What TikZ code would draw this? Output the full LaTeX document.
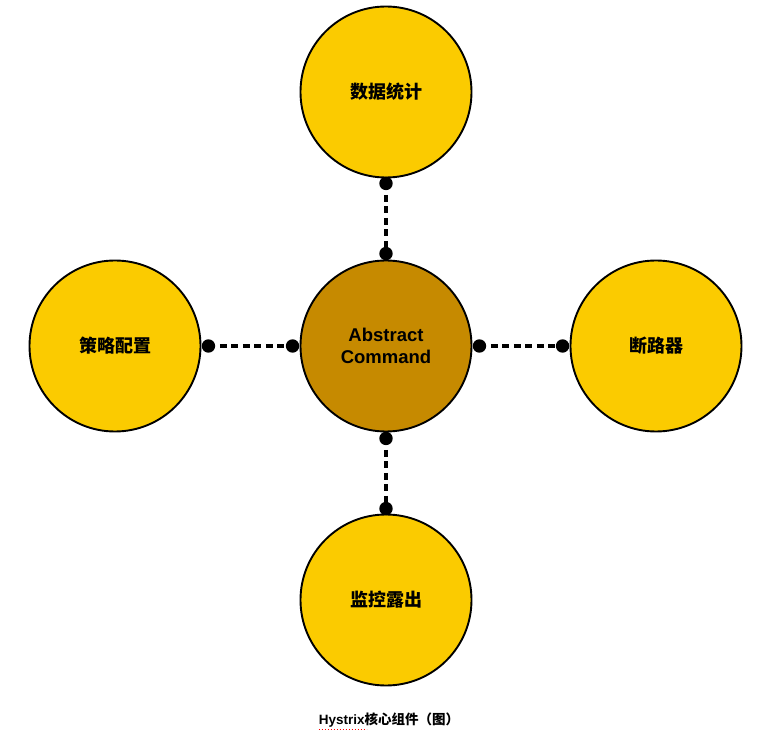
\documentclass[tikz,border=0pt]{standalone}
\usepackage{fontspec}
\setmainfont{Liberation Sans}
\newfontfamily\cjk{Noto Sans CJK SC}
\usetikzlibrary{calc}
\definecolor{sat}{HTML}{FBCB00}
\definecolor{core}{HTML}{C68A00}
\tikzset{
  orb/.style={circle, draw=black, line width=1.9pt, fill=sat, minimum size=171pt, inner sep=0pt, font=\cjk\bfseries\fontsize{18}{22}\selectfont},
  coreorb/.style={orb, fill=core, align=center, font=\bfseries\fontsize{18.5}{22}\selectfont},
  conn/.style={line width=4pt, dash pattern=on 7pt off 4.5pt},
  knob/.style={fill=black},
}
\begin{document}
\begin{tikzpicture}[x=1pt,y=-1pt]
\useasboundingbox[fill=white] (0,0) rectangle (769,735);
\node[orb] (stat) at (386,92) {数据统计};
\node[coreorb] (cmd) at (386,346) {Abstract\\Command};
\node[orb] (policy) at (115,346) {策略配置};
\node[orb] (breaker) at (656,346) {断路器};
\node[orb] (monitor) at (386,600) {监控露出};
\coordinate (d1) at ($(stat.south)+(0,5)$);
\coordinate (d2) at ($(cmd.north)+(0,-6)$);
\coordinate (d3) at ($(cmd.south)+(0,6)$);
\coordinate (d4) at ($(monitor.north)+(0,-5)$);
\coordinate (d5) at ($(policy.east)+(7,0)$);
\coordinate (d6) at ($(cmd.west)+(-7,0)$);
\coordinate (d7) at ($(cmd.east)+(7,0)$);
\coordinate (d8) at ($(breaker.west)+(-7,0)$);
\draw[conn] (d1) -- (d2);
\draw[conn] (d3) -- (d4);
\draw[conn] (d5) -- (d6);
\draw[conn] (d7) -- (d8);
\foreach \p in {d1,d2,d3,d4,d5,d6,d7,d8} \fill[knob] (\p) circle (6.7);
\node[font=\bfseries\fontsize{13.5}{16}\selectfont, inner sep=0pt] (cap) at (389,720) {Hystrix{\cjk 核心组件（图）}};
\coordinate (u1) at ($(cap.south west)+(0,2)$);
\coordinate (u2) at ($(cap.south west)+(48,2)$);
\draw[red, line width=1.6pt, dash pattern=on 1.6pt off 1.4pt] (u1) -- (u2);
\end{tikzpicture}
\end{document}
